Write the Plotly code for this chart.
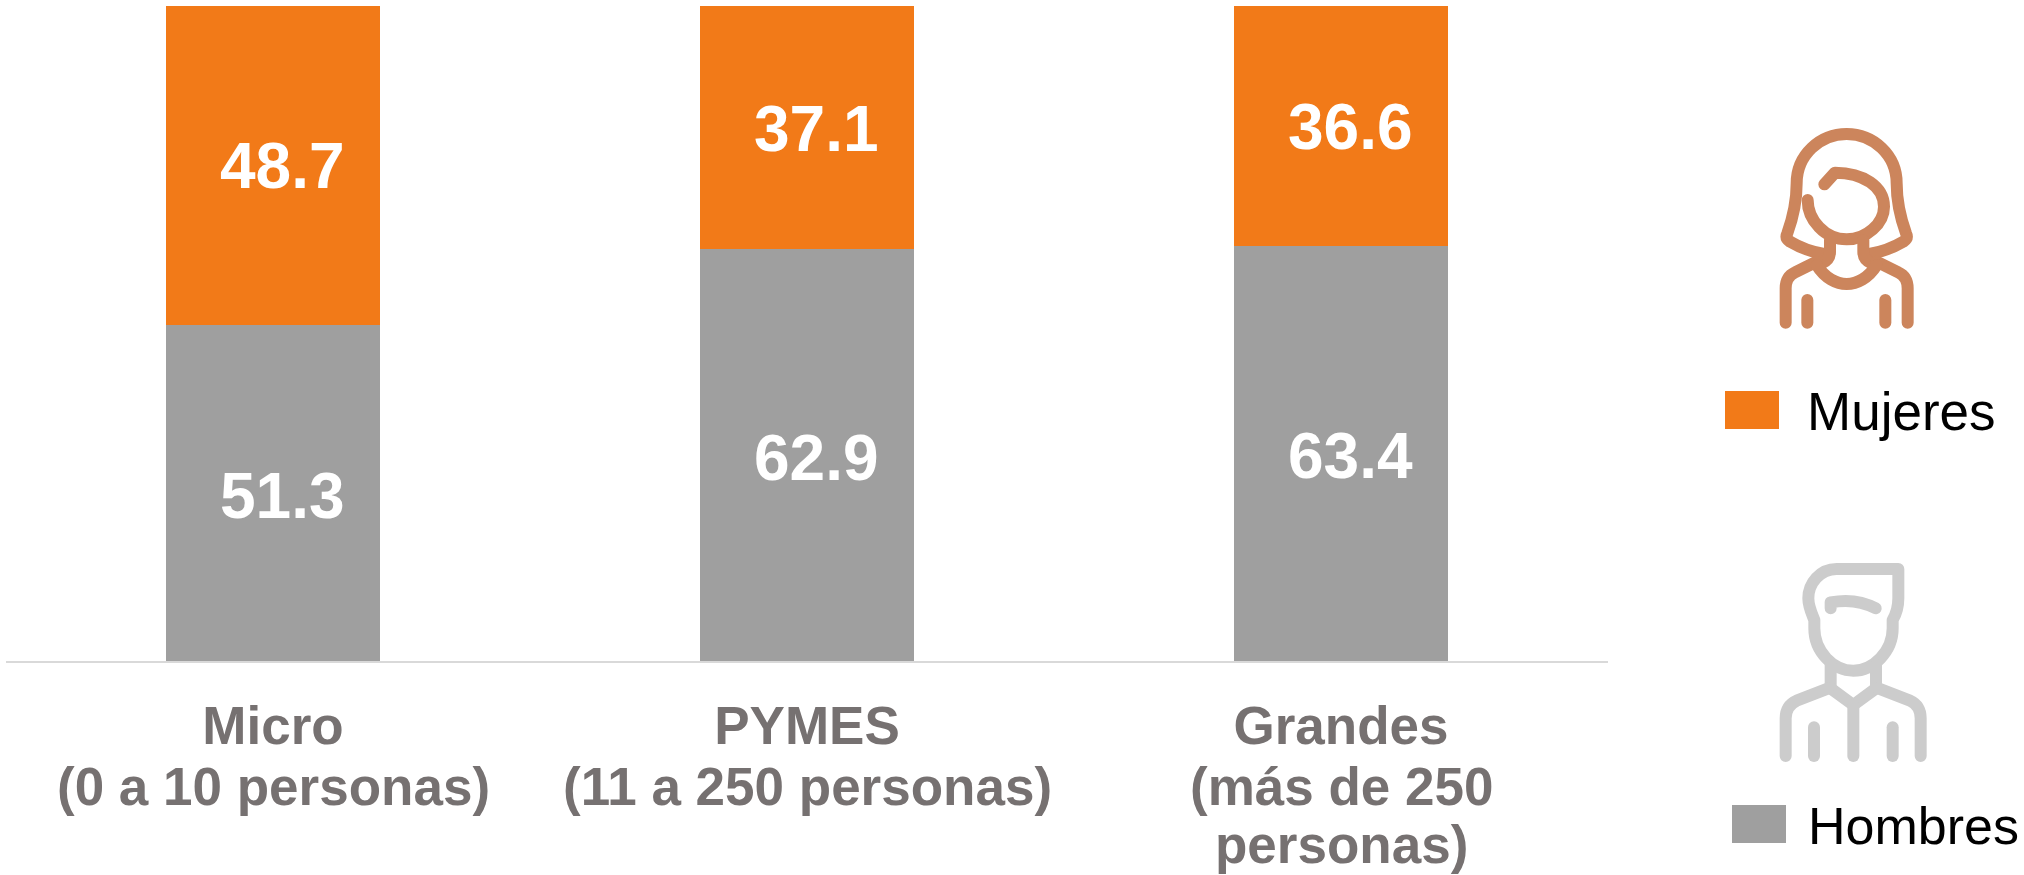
import base64
import plotly.graph_objects as go

categories = ["Micro", "PYMES", "Grandes"]
category_notes = [["(0 a 10 personas)"], ["(11 a 250 personas)"], ["(más de 250", "personas)"]]
hombres = [51.3, 62.9, 63.4]
mujeres = [48.7, 37.1, 36.6]

W, H = 2024, 875
ML, MR, MT, MB = 6, 416, 6, 214
PW, PH = W - ML - MR, H - MT - MB
ORANGE, GREY = "#F27A18", "#9F9F9F"
LABEL = "#767171"
FONT = "Liberation Sans, Arial, sans-serif"


def px(x):
    return (x - ML) / PW


def py(y):
    return 1 - (y - MT) / PH


def icon(paths, colour, vw, vh):
    d = "".join(f'<path d="{p}"/>' for p in paths)
    svg = (f'<svg xmlns="http://www.w3.org/2000/svg" width="{vw}" height="{vh}" viewBox="0 0 {vw} {vh}">'
           f'<g fill="none" stroke="{colour}" stroke-width="36" stroke-linecap="round" stroke-linejoin="round">{d}</g></svg>')
    return "data:image/svg+xml;base64," + base64.b64encode(svg.encode()).decode()


woman = [
    "M372 462C330 455 295 440 270 425Q255 415 262 400C280 350 290 300 290 250C290 165 360 102 440 102C520 102 590 165 590 250C590 300 600 350 618 400Q625 415 610 425C585 440 550 455 508 462",
    "M323 300C323 360 375 418 440 418C500 418 552 370 552 320C552 260 490 218 405 218L373 253",
    "M390 420L390 455Q390 480 365 490",
    "M490 420L490 455Q490 480 515 490",
    "M350 485L285 517Q257 530 257 565L257 668",
    "M530 485L595 517Q623 530 623 565L623 668",
    "M350 495C375 535 410 552 440 552C470 552 505 535 530 495",
    "M322 600L322 668",
    "M556 600L556 668",
]
man = [
    "M595 87L410 87C360 87 325 130 325 175C325 200 335 220 343 240L343 265C343 335 400 392 460 392C520 392 578 335 578 265L578 240C590 220 595 200 595 175Z",
    "M392 205L392 187C440 178 490 185 527 205",
    "M392 375L392 435",
    "M528 375L528 435",
    "M392 445L460 495L528 445",
    "M385 445L290 482Q257 497 257 535L257 648",
    "M535 445L630 482Q662 497 662 535L662 648",
    "M460 495L460 648",
    "M342 562L342 648",
    "M578 562L578 648",
]

fig = go.Figure()
fig.add_bar(name="Hombres", x=categories, y=hombres, marker=dict(color=GREY, line_width=0), width=0.40)
fig.add_bar(name="Mujeres", x=categories, y=mujeres, marker=dict(color=ORANGE, line_width=0), width=0.40)

annotations = []
for c, h, m in zip(categories, hombres, mujeres):
    for val, mid, shift in ((h, h / 2, -3), (m, h + m / 2, -1)):
        annotations.append(dict(x=c, y=mid, xref="x", yref="y", text=f"<b>{val}</b>", showarrow=False,
                                xshift=9, yshift=shift, font=dict(family=FONT, size=64, color="white")))

for c, notes in zip(categories, category_notes):
    for i, line in enumerate(notes):
        annotations.append(dict(x=c, y=0, xref="x", yref="y", yanchor="top", text=f"<b>{line}</b>", showarrow=False,
                                yshift=-94 - 58 * i, font=dict(family=FONT, size=53, color=LABEL)))

for text, x, y, size in (("Mujeres", 1805, 411, 53), ("Hombres", 1806, 826, 52)):
    annotations.append(dict(x=px(x), y=py(y), xref="paper", yref="paper", xanchor="left", yanchor="middle",
                            text=text, showarrow=False, font=dict(family=FONT, size=size, color="black")))

shapes = [
    dict(type="rect", xref="paper", yref="paper", x0=px(1725), x1=px(1779), y0=py(391), y1=py(429),
         fillcolor=ORANGE, line_width=0),
    dict(type="rect", xref="paper", yref="paper", x0=px(1732), x1=px(1786), y0=py(805), y1=py(843),
         fillcolor=GREY, line_width=0),
]

images = [
    dict(source=icon(woman, "#CC855C", 972, 1050), xref="paper", yref="paper", x=px(1700), y=py(100),
         sizex=324 / PW, sizey=350 / PH, sizing="stretch", xanchor="left", yanchor="top", layer="above"),
    dict(source=icon(man, "#CCCCCC", 972, 1005), xref="paper", yref="paper", x=px(1700), y=py(540),
         sizex=324 / PW, sizey=335 / PH, sizing="stretch", xanchor="left", yanchor="top", layer="above"),
]

fig.update_layout(
    width=W, height=H, barmode="stack", showlegend=False,
    margin=dict(l=ML, r=MR, t=MT, b=MB, pad=0, autoexpand=False),
    paper_bgcolor="white", plot_bgcolor="white",
    annotations=annotations, shapes=shapes, images=images,
    font=dict(family=FONT),
)
fig.update_xaxes(automargin=False, showline=True, linecolor="#D9D9D9", linewidth=2, ticks="", ticklabelstandoff=17,
                 tickangle=0, tickfont=dict(family=FONT, size=53, color=LABEL, weight="bold"))
fig.update_yaxes(automargin=False, range=[0, 100], visible=False, showgrid=False, zeroline=False)

fig.write_html("out.html", config={"displayModeBar": False},
               post_script="document.body.style.margin='0';document.body.style.overflow='hidden';")
